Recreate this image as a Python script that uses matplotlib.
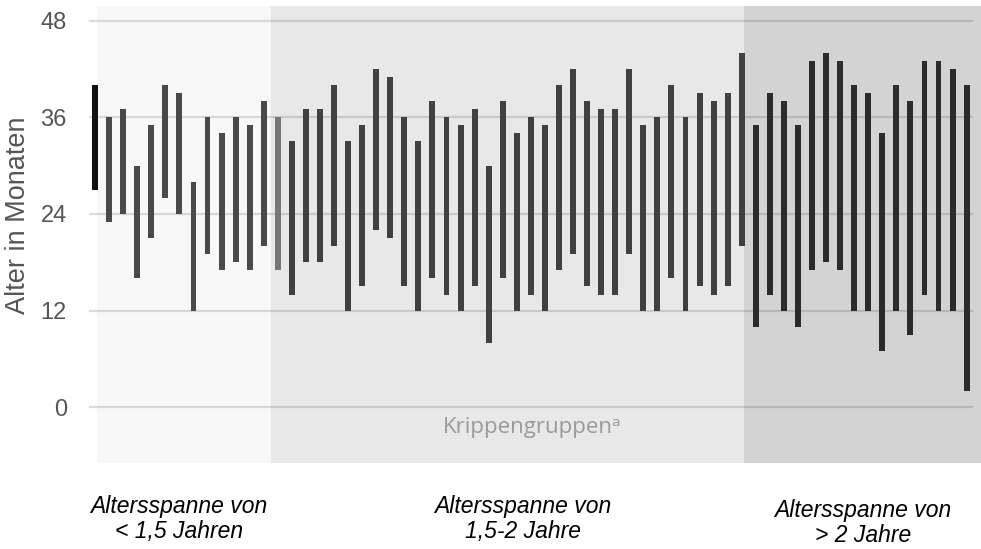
import numpy as np
import matplotlib
matplotlib.use("Agg")
import matplotlib.pyplot as plt

# age ranges (months) of each creche group: lowest and highest age
low_u15 = [27, 23, 24, 16, 21, 26, 24, 12, 19, 17, 18, 17, 20]
high_u15 = [40, 36, 37, 30, 35, 40, 39, 28, 36, 34, 36, 35, 38]
low_15_2 = [17, 14, 18, 18, 20, 12, 15, 22, 21, 15, 12, 16, 14, 12, 15, 8,
            16, 12, 14, 12, 17, 19, 15, 14, 14, 19, 12, 12, 16, 12, 15, 14, 15, 20]
high_15_2 = [36, 33, 37, 37, 40, 33, 35, 42, 41, 36, 33, 38, 36, 35, 37, 30,
             38, 34, 36, 35, 40, 42, 38, 37, 37, 42, 35, 36, 40, 36, 39, 38, 39, 44]
low_o2 = [10, 14, 12, 10, 17, 18, 17, 12, 12, 7, 12, 9, 14, 12, 12, 2]
high_o2 = [35, 39, 38, 35, 43, 44, 43, 40, 39, 34, 40, 38, 43, 43, 42, 40]

group_labels = ["Altersspanne von\n< 1,5 Jahren", "Altersspanne von\n1,5-2 Jahre",
                "Altersspanne von\n> 2 Jahre"]
yticks = [0, 12, 24, 36, 48]

fig = plt.figure(figsize=(9.81, 5.49), dpi=100)
ax = fig.add_axes([89 / 981, 86 / 549, 892 / 981, 457 / 549])

lows = low_u15 + low_15_2 + low_o2
highs = high_u15 + high_15_2 + high_o2
x = np.arange(len(lows))
n1, n2 = len(low_u15), len(low_15_2)

# shaded background per group
ax.axvspan(0.14, n1 - 0.45, color="#f8f8f8", zorder=0, lw=0)
ax.axvspan(n1 - 0.45, n1 + n2 - 0.85, color="#e8e8e8", zorder=0, lw=0)
ax.axvspan(n1 + n2 - 0.85, 63.1, color="#d3d3d3", zorder=0, lw=0)

ax.hlines(yticks, -0.43, 62.45, color="black", alpha=0.13, lw=1.6, zorder=1)

colors = ["#4a4a4a"] * n1 + ["#404040"] * n2 + ["#2b2b2b"] * len(low_o2)
colors[0] = "#111111"
colors[n1] = "#767676"
heights = [h - l for h, l in zip(highs, lows)]
ax.bar(x, heights, bottom=lows, width=0.42, color=colors, zorder=2)

ax.set_xlim(-0.43, 63.02)
ax.set_ylim(-6.9, 49.8)
ax.set_xticks([])
ax.set_yticks(yticks)
ax.set_yticklabels([str(t) for t in yticks], fontsize=17, color="#555555",
                   family="Liberation Sans")
ax.tick_params(axis="y", length=0, pad=16)
for s in ax.spines.values():
    s.set_visible(False)

fig.text(18 / 981, 1 - 215 / 549, "Alter in Monaten", rotation=90, fontsize=19.5,
         color="#555555", family="Liberation Sans", ha="center", va="center")

fig.text(532 / 981, 1 - 428 / 549, "Krippengruppen\u1d43", fontsize=16,
         color="#9a9a9a", family=["Open Sans", "DejaVu Sans"], ha="center", va="center")

label_pos = [(179, 519), (523, 519), (863, 523)]
for (px, py), txt in zip(label_pos, group_labels):
    fig.text(px / 981, 1 - py / 549, txt, fontsize=16.5, style="italic",
             family="Liberation Sans", ha="center", va="center", linespacing=1.1)

fig.savefig("out.png", dpi=100, facecolor="white")
